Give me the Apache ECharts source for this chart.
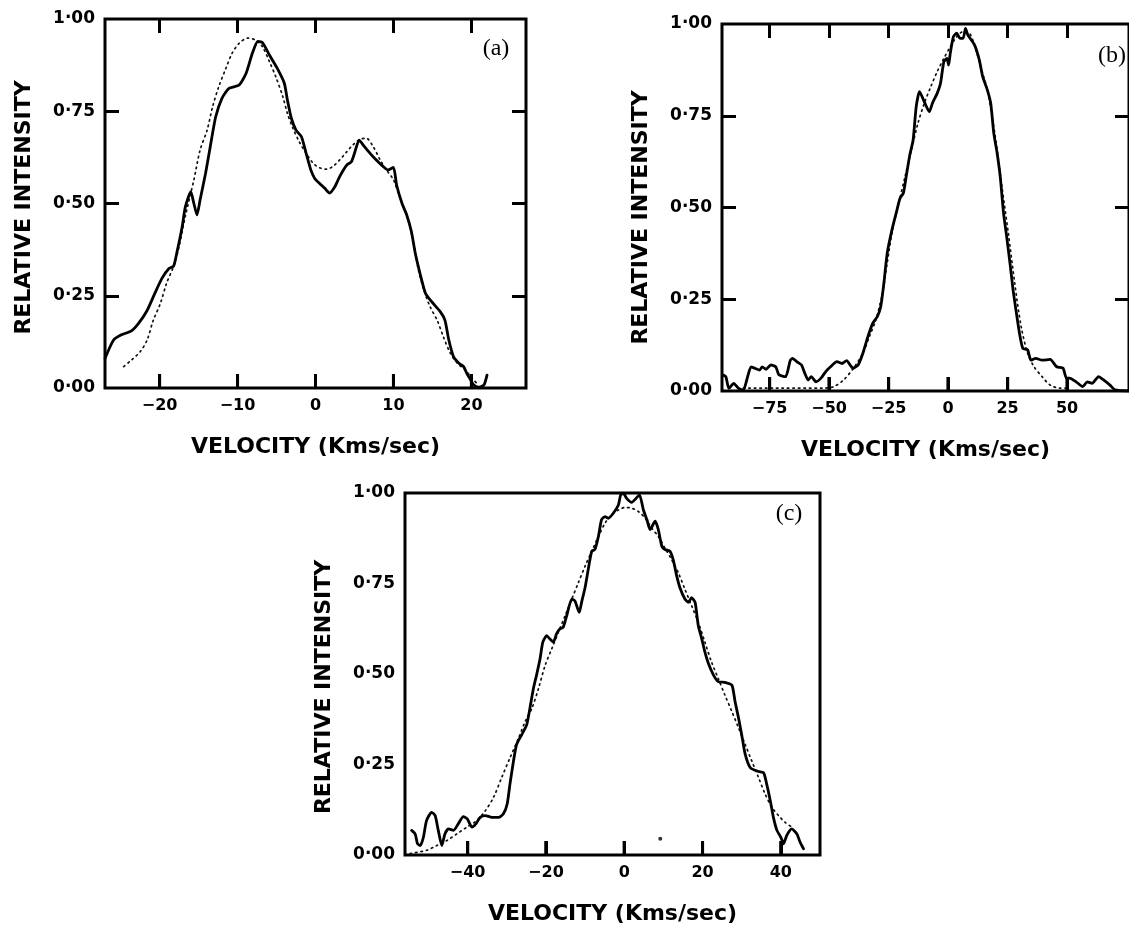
<!DOCTYPE html>
<html><head><meta charset="utf-8">
<script src="https://cdn.jsdelivr.net/npm/echarts@6/dist/echarts.min.js"></script>
<style>html,body{margin:0;padding:0;background:#fff}#c{width:1129px;height:926px}</style>
</head><body><div id="c"></div>
<script>
// ---- tick values / labels ----
const aTicks = [-20, -10, 0, 10, 20];
const bTicks = [-75, -50, -25, 0, 25, 50];
const cTicks = [-40, -20, 0, 20, 40];
const yLabels = [0, 0.25, 0.5, 0.75, 1];
const yInnerTicks = [0.25, 0.5, 0.75];

// ---- panel (a): observed profile (solid) and fit (dotted), [velocity, intensity] ----
const aObserved = [[-27.0,0.08],[-25.9,0.13],[-24.9,0.144],[-23.6,0.155],[-22.7,0.175],[-21.6,0.21],[-20.6,0.257],[-19.7,0.297],[-18.8,0.324],[-18.2,0.33],[-17.8,0.365],[-17.1,0.437],[-16.7,0.49],[-16.0,0.532],[-15.6,0.50],[-15.2,0.469],[-14.8,0.51],[-14.1,0.582],[-13.5,0.654],[-12.8,0.735],[-12.0,0.785],[-11.1,0.812],[-9.8,0.821],[-8.9,0.853],[-8.1,0.907],[-7.4,0.939],[-6.8,0.936],[-5.9,0.902],[-4.9,0.866],[-4.0,0.826],[-3.6,0.78],[-3.1,0.731],[-2.5,0.699],[-1.8,0.681],[-1.2,0.636],[-0.6,0.591],[-0.1,0.568],[0.5,0.555],[1.2,0.541],[1.8,0.528],[2.5,0.546],[3.1,0.573],[4.0,0.604],[4.6,0.613],[5.0,0.636],[5.6,0.672],[6.1,0.659],[7.0,0.636],[7.8,0.618],[8.7,0.60],[9.3,0.591],[10.0,0.598],[10.4,0.55],[11.1,0.50],[11.7,0.469],[12.3,0.424],[12.8,0.365],[13.4,0.311],[14.1,0.257],[14.9,0.234],[16.0,0.207],[16.6,0.184],[17.1,0.13],[17.7,0.085],[18.4,0.067],[19.0,0.058],[19.4,0.04],[19.9,0.022],[20.3,0.008],[20.9,0.002],[21.6,0.008],[22.0,0.035]];
const aFit = [[-24.6,0.058],[-23.6,0.076],[-22.5,0.098],[-21.6,0.13],[-20.8,0.184],[-19.9,0.229],[-19.1,0.284],[-18.2,0.33],[-17.5,0.383],[-16.7,0.465],[-15.6,0.564],[-14.8,0.645],[-13.9,0.699],[-13.2,0.762],[-12.4,0.817],[-11.5,0.866],[-10.7,0.907],[-9.8,0.934],[-8.7,0.948],[-7.7,0.943],[-6.8,0.925],[-5.9,0.884],[-5.1,0.844],[-4.2,0.79],[-3.6,0.744],[-2.9,0.704],[-2.1,0.668],[-1.2,0.636],[-0.3,0.609],[0.5,0.597],[1.4,0.593],[2.2,0.60],[3.1,0.618],[4.0,0.64],[4.8,0.659],[5.7,0.674],[6.5,0.677],[7.4,0.654],[8.3,0.618],[9.1,0.591],[10.0,0.564],[10.8,0.518],[11.7,0.469],[12.6,0.392],[13.2,0.32],[13.9,0.266],[14.7,0.22],[15.6,0.184],[16.4,0.139],[17.3,0.094],[18.2,0.067],[19.2,0.049],[20.1,0.026],[20.9,0.008]];

// ---- panel (b) ----
const bObserved = [[-94.8,0.044],[-93.4,0.039],[-92.1,0.007],[-90.1,0.021],[-88.0,0.007],[-86.0,0.003],[-84.6,0.03],[-82.8,0.066],[-81.2,0.062],[-79.2,0.057],[-78.1,0.066],[-76.5,0.059],[-74.5,0.071],[-72.4,0.066],[-71.1,0.044],[-68.3,0.039],[-66.3,0.084],[-65.3,0.089],[-63.6,0.08],[-61.6,0.071],[-60.2,0.048],[-58.8,0.03],[-57.5,0.039],[-55.5,0.025],[-53.4,0.035],[-51.4,0.053],[-49.4,0.066],[-46.7,0.08],[-44.6,0.075],[-42.6,0.083],[-41.2,0.071],[-39.9,0.062],[-37.8,0.071],[-35.8,0.103],[-33.7,0.148],[-31.7,0.184],[-29.7,0.203],[-28.3,0.23],[-27.0,0.293],[-25.6,0.375],[-23.6,0.439],[-21.5,0.493],[-20.2,0.525],[-18.8,0.539],[-17.4,0.593],[-16.1,0.643],[-14.7,0.684],[-13.4,0.775],[-12.0,0.816],[-10.0,0.788],[-7.9,0.761],[-6.6,0.784],[-4.6,0.811],[-3.2,0.838],[-1.8,0.897],[-0.5,0.906],[0.2,0.888],[0.9,0.92],[2.2,0.965],[3.6,0.975],[5.0,0.961],[6.3,0.961],[7.3,0.988],[8.3,0.97],[11.1,0.943],[13.1,0.902],[14.5,0.857],[16.5,0.82],[17.9,0.784],[19.2,0.702],[20.6,0.648],[21.9,0.584],[23.3,0.484],[24.6,0.421],[26.0,0.348],[27.3,0.275],[28.7,0.212],[30.0,0.157],[31.4,0.116],[33.4,0.112],[34.8,0.084],[36.8,0.089],[39.5,0.084],[42.9,0.086],[45.6,0.066],[48.3,0.062],[49.7,0.035],[51.0,0.035],[53.8,0.025],[56.5,0.012],[58.5,0.025],[60.5,0.021],[63.2,0.039],[65.3,0.03],[68.0,0.016],[70.1,0.003],[76.0,0.0]];
const bFit = [[-86,0.008],[-70,0.008],[-52,0.008],[-48,0.012],[-43.9,0.03],[-39.8,0.062],[-35.8,0.103],[-33.1,0.148],[-30.4,0.193],[-27.6,0.266],[-25.6,0.348],[-23.6,0.43],[-20.8,0.511],[-18.1,0.584],[-15.4,0.657],[-12.7,0.729],[-10.0,0.784],[-7.3,0.829],[-4.6,0.87],[-1.8,0.906],[0.9,0.938],[3.6,0.965],[6.3,0.979],[9.0,0.975],[11.7,0.929],[14.5,0.866],[16.5,0.82],[18.5,0.748],[20.6,0.657],[22.6,0.557],[25.3,0.43],[28.0,0.293],[30.7,0.175],[33.4,0.103],[36.1,0.066],[39.5,0.039],[42.9,0.016],[47.0,0.008],[50.0,0.008]];

// ---- panel (c) ----
const cObserved = [[-54.3,0.068],[-53.4,0.058],[-52.8,0.031],[-52.1,0.026],[-51.3,0.049],[-50.5,0.095],[-49.2,0.118],[-48.3,0.109],[-47.5,0.068],[-46.6,0.026],[-45.8,0.058],[-44.9,0.072],[-43.6,0.068],[-42.4,0.086],[-41.1,0.106],[-40.1,0.10],[-38.9,0.077],[-37.9,0.086],[-36.8,0.104],[-35.5,0.109],[-33.8,0.104],[-32.1,0.104],[-30.9,0.113],[-29.9,0.141],[-29.2,0.195],[-28.3,0.259],[-27.5,0.305],[-26.2,0.332],[-24.9,0.36],[-24.1,0.405],[-23.2,0.46],[-22.4,0.497],[-21.5,0.542],[-20.8,0.588],[-19.8,0.606],[-19.0,0.597],[-18.1,0.588],[-17.3,0.611],[-16.4,0.625],[-15.6,0.629],[-14.7,0.661],[-13.4,0.707],[-12.6,0.702],[-11.5,0.67],[-10.9,0.698],[-10.0,0.739],[-9.2,0.789],[-8.3,0.839],[-7.5,0.844],[-6.6,0.88],[-5.8,0.926],[-4.9,0.935],[-4.1,0.93],[-2.8,0.944],[-1.5,0.967],[-0.9,0.995],[-0.2,0.999],[0.6,0.985],[1.9,0.974],[3.0,0.985],[3.9,0.995],[4.9,0.953],[5.8,0.926],[6.6,0.899],[7.9,0.922],[8.7,0.899],[9.6,0.853],[10.4,0.844],[11.7,0.839],[12.5,0.816],[13.4,0.771],[14.2,0.739],[15.5,0.707],[16.4,0.698],[17.2,0.711],[18.1,0.698],[18.9,0.634],[19.8,0.597],[20.6,0.561],[21.5,0.529],[22.8,0.497],[24.0,0.479],[25.7,0.477],[27.5,0.469],[28.3,0.424],[29.2,0.378],[30.0,0.332],[30.9,0.278],[32.2,0.241],[33.9,0.232],[35.6,0.227],[36.4,0.195],[37.3,0.15],[38.1,0.104],[39.0,0.068],[40.0,0.049],[40.7,0.031],[41.5,0.054],[42.8,0.072],[44.1,0.058],[44.9,0.036],[45.8,0.017]];
const cFit = [[-54.7,0.004],[-50.5,0.013],[-47.9,0.026],[-45.3,0.04],[-42.8,0.058],[-40.2,0.077],[-37.7,0.095],[-35.5,0.122],[-33.4,0.159],[-31.3,0.214],[-29.2,0.268],[-27.0,0.323],[-25.3,0.369],[-23.6,0.405],[-21.9,0.46],[-20.2,0.524],[-18.5,0.57],[-16.8,0.616],[-15.1,0.661],[-13.4,0.707],[-11.7,0.753],[-10.0,0.798],[-8.3,0.839],[-6.6,0.88],[-4.9,0.917],[-3.2,0.94],[-1.5,0.953],[0.2,0.96],[1.9,0.958],[3.6,0.949],[5.3,0.931],[7.0,0.903],[8.7,0.88],[10.4,0.848],[12.1,0.816],[13.8,0.78],[15.5,0.734],[17.2,0.689],[18.9,0.643],[20.6,0.588],[22.3,0.533],[24.0,0.488],[25.7,0.442],[27.5,0.396],[29.2,0.351],[30.9,0.305],[32.6,0.259],[34.3,0.214],[36.0,0.168],[37.7,0.132],[39.4,0.109],[41.1,0.09],[42.8,0.077]];
const cSpeck = [[9.2,0.045]];

const FONT = '"DejaVu Sans", sans-serif';
const fmtY = v => Number(v).toFixed(2).replace('.', '\u00B7');
const fmtX = v => (v < 0 ? '\u2212' + Math.abs(v) : String(v));
const TICK_LEN = 14;

const panels = [
  {left:105, top:19, width:421, height:369, min:-27, max:27, ticks:aTicks, frame:true, obs:aObserved, fit:aFit, label:'(a)', lx:496, ly:49, yShift:4},
  {left:722, top:24, width:420, height:367, min:-95, max:76, ticks:bTicks, frame:true, obs:bObserved, fit:bFit, label:'(b)', lx:1112, ly:56, yShift:10},
  {left:405, top:493, width:415, height:365, min:-56, max:50, ticks:cTicks, frame:false, obs:cObserved, fit:cFit, label:'(c)', lx:789, ly:514, yShift:13}
];

const grid = [], xAxis = [], yAxis = [], series = [], graphic = [];
const tick = () => ({color:'#000', width:3});
const labelStyle = (size) => ({color:'#000', fontFamily:FONT, fontWeight:'bold', fontSize:size});
const nameStyle = () => ({color:'#000', fontFamily:FONT, fontWeight:'bold', fontSize:22});

// bottom-frame tick mark: a short vertical stroke standing on y = 0 at a tick velocity
function renderBottomTick(params, api) {
  const pt = api.coord([api.value(0), api.value(1)]);
  return {type:'line', shape:{x1:pt[0], y1:pt[1], x2:pt[0], y2:pt[1] - TICK_LEN},
          style:{stroke:'#000', lineWidth:3}};
}

panels.forEach((p, i) => {
  grid.push({left:p.left, top:p.top, width:p.width, height:p.height, show:true, borderColor:'#000', borderWidth:3, backgroundColor:'transparent'});
  const xb = xAxis.length;
  xAxis.push({gridIndex:i, type:'value', position:'bottom', min:p.min, max:p.max,
    axisLine:{show:false, onZero:false}, splitLine:{show:false},
    axisTick:{show:true, inside:true, length:TICK_LEN, lineStyle:tick(), customValues:p.ticks},
    axisLabel:Object.assign({show:true, margin:10, customValues:p.ticks, formatter:fmtX}, labelStyle(16)),
    name:'VELOCITY (Kms/sec)', nameLocation:'middle', nameGap:48, nameTextStyle:nameStyle()});
  if (p.frame) {
    xAxis.push({gridIndex:i, type:'value', position:'top', min:p.min, max:p.max,
      axisLine:{show:false, onZero:false}, splitLine:{show:false}, axisLabel:{show:false},
      axisTick:{show:true, inside:true, length:TICK_LEN, lineStyle:tick(), customValues:p.ticks}});
  }
  const yl = yAxis.length;
  yAxis.push({gridIndex:i, type:'value', position:'left', min:0, max:1,
    axisLine:{show:false, onZero:false}, splitLine:{show:false},
    axisTick:{show:p.frame, inside:true, length:TICK_LEN, lineStyle:tick(), customValues:yInnerTicks},
    axisLabel:Object.assign({show:true, margin:10, customValues:yLabels, formatter:fmtY}, labelStyle(17)),
    name:'RELATIVE INTENSITY', nameLocation:'middle', nameGap:70,
    nameTextStyle:Object.assign({padding:[0, 2 * p.yShift, 0, 0]}, nameStyle())});
  if (p.frame) {
    yAxis.push({gridIndex:i, type:'value', position:'right', min:0, max:1,
      axisLine:{show:false, onZero:false}, splitLine:{show:false}, axisLabel:{show:false},
      axisTick:{show:true, inside:true, length:TICK_LEN, lineStyle:tick(), customValues:yInnerTicks}});
  }
  const tickData = p.ticks.map(t => [t, 0]);
  series.push({type:'scatter', xAxisIndex:xb, yAxisIndex:yl, data:tickData,
    symbol:'rect', symbolSize:[3, TICK_LEN], symbolOffset:[0, -TICK_LEN / 2], clip:false, silent:true, z:4,
    itemStyle:{color:'#000'}});
  series.push({type:'custom', xAxisIndex:xb, yAxisIndex:yl, data:tickData, renderItem:renderBottomTick,
    clip:false, silent:true, z:5});
  series.push({type:'line', xAxisIndex:xb, yAxisIndex:yl, data:p.fit, symbol:'none', smooth:0.3, z:2,
    lineStyle:{color:'#111', width:1.7, type:[1.5, 4], cap:'round'}});
  series.push({type:'line', xAxisIndex:xb, yAxisIndex:yl, data:p.obs, symbol:'none', smooth:0.2, z:3,
    lineStyle:{color:'#000', width:2.8, join:'round', cap:'round'}});
  if (i === 2) {
    series.push({type:'scatter', xAxisIndex:xb, yAxisIndex:yl, data:cSpeck, symbol:'circle', symbolSize:4, itemStyle:{color:'#000'}, z:3});
  }
  graphic.push({type:'text', x:p.lx, y:p.ly, style:{text:p.label, font:'24px "Liberation Serif", serif', fill:'#000', textAlign:'center', textVerticalAlign:'middle'}});
});

const chart = echarts.init(document.getElementById('c'), null, {renderer:'canvas'});
chart.setOption({animation:false, backgroundColor:'#fff', grid, xAxis, yAxis, series, graphic});
</script>
</body></html>
